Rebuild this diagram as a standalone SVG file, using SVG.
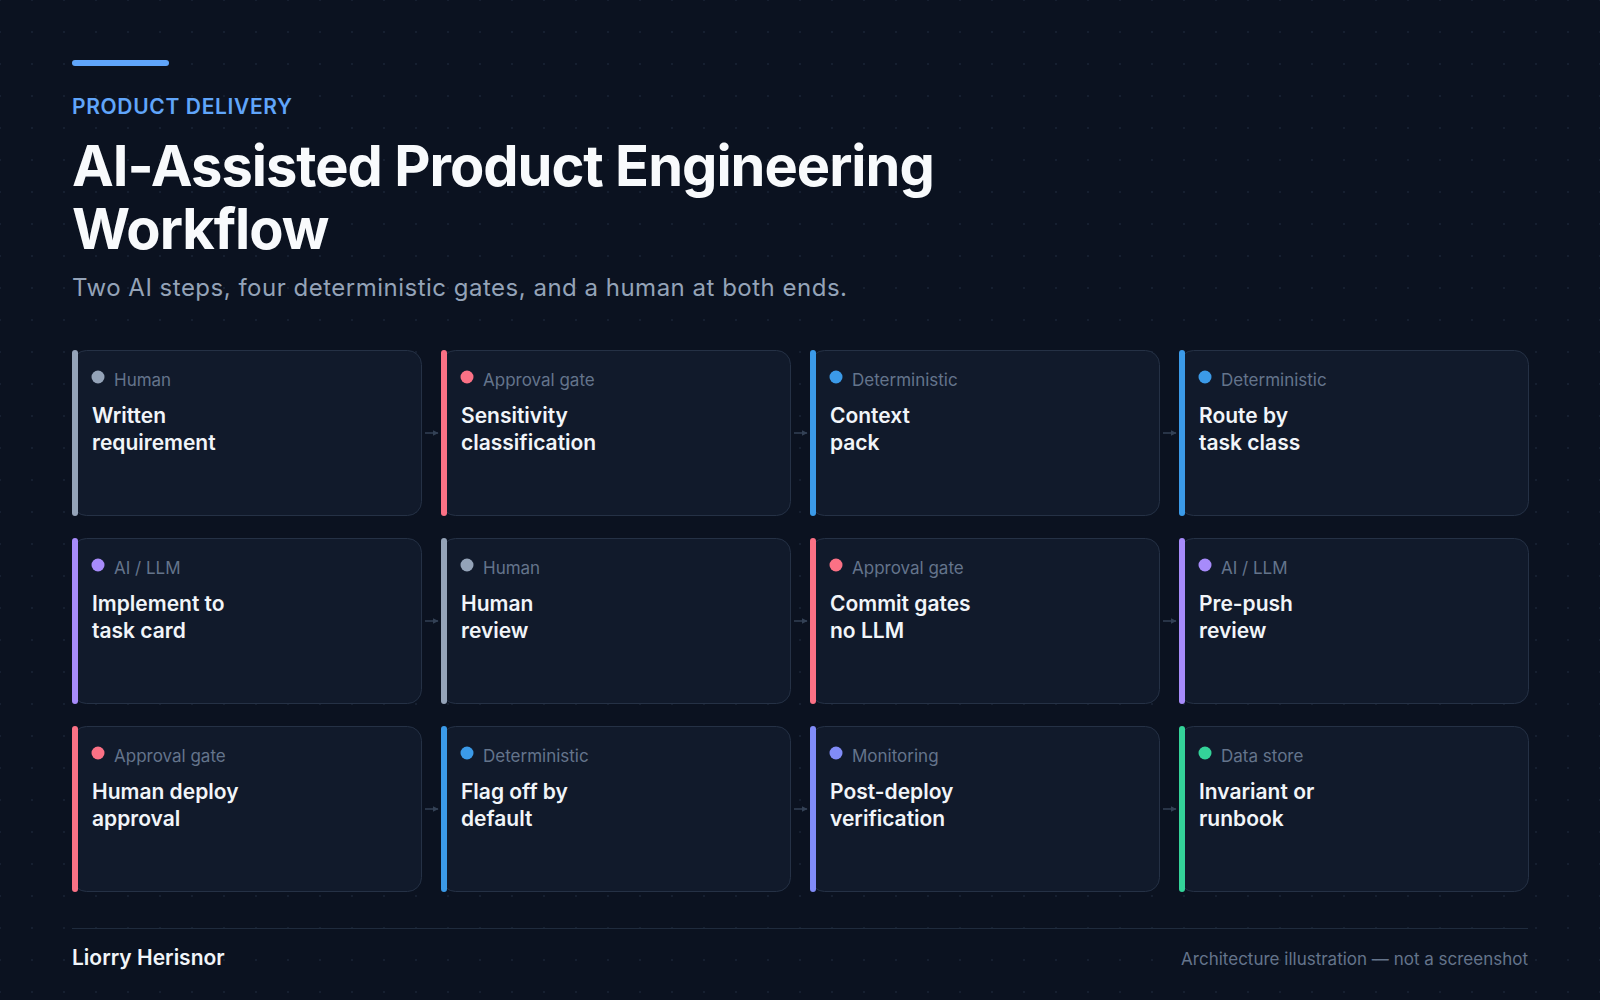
<svg xmlns="http://www.w3.org/2000/svg" width="1600" height="1000" viewBox="0 0 1600 1000">
  <defs>
    <pattern id="grid" patternUnits="userSpaceOnUse" x="-16" y="-16" width="32" height="32">
      <circle cx="16" cy="16" r="0.9" fill="#1a2536"/>
    </pattern>
    <marker id="arr" viewBox="0 0 10 10" refX="9" refY="5" markerWidth="6" markerHeight="6" markerUnits="userSpaceOnUse" orient="auto">
      <path d="M0,0 L10,5 L0,10 z" fill="#334155"/>
    </marker>
    <style>
      .card { fill: #111a2b; stroke: #253145; stroke-width: 1; }
      .lbl { font-family: Inter, "Noto Sans", "Liberation Sans", sans-serif; font-size: 17px; fill: #64748b; }
      .ttl { font-family: Inter, "Noto Sans", "Liberation Sans", sans-serif; font-size: 21px; font-weight: 600; fill: #f1f5f9; }
      .conn { stroke: #334155; stroke-width: 1.5; fill: none; }
      .human { fill: #94a3b8; }
      .gate { fill: #fb7185; }
      .det { fill: #3b9ae8; }
      .ai { fill: #a78bfa; }
      .mon { fill: #818cf8; }
      .data { fill: #34d399; }
    </style>
  </defs>

  <rect width="1600" height="1000" fill="#0b1220"/>
  <rect width="1600" height="1000" fill="url(#grid)"/>

  <g id="header">
    <rect x="72" y="60" width="97" height="6" rx="3" fill="#60a5fa"/>
    <text x="72" y="114" font-family="Inter, 'Noto Sans', 'Liberation Sans', sans-serif" font-size="21" font-weight="600" letter-spacing="0.65" fill="#60a5fa">PRODUCT DELIVERY</text>
    <text font-family="Inter, 'Noto Sans', 'Liberation Sans', sans-serif" font-size="56" font-weight="700" fill="#f8fafc" letter-spacing="-1">
      <tspan x="72" y="186">AI-Assisted Product Engineering</tspan>
      <tspan x="72" y="249">Workflow</tspan>
    </text>
    <text x="72" y="296" font-family="Inter, 'Noto Sans', 'Liberation Sans', sans-serif" font-size="24" letter-spacing="0.5" fill="#94a3b8">Two AI steps, four deterministic gates, and a human at both ends.</text>
  </g>

  <g id="connectors">
    <line class="conn" x1="425" y1="433" x2="438" y2="433" marker-end="url(#arr)"/>
    <line class="conn" x1="794" y1="433" x2="807" y2="433" marker-end="url(#arr)"/>
    <line class="conn" x1="1163" y1="433" x2="1176" y2="433" marker-end="url(#arr)"/>
    <line class="conn" x1="425" y1="621" x2="438" y2="621" marker-end="url(#arr)"/>
    <line class="conn" x1="794" y1="621" x2="807" y2="621" marker-end="url(#arr)"/>
    <line class="conn" x1="1163" y1="621" x2="1176" y2="621" marker-end="url(#arr)"/>
    <line class="conn" x1="425" y1="809" x2="438" y2="809" marker-end="url(#arr)"/>
    <line class="conn" x1="794" y1="809" x2="807" y2="809" marker-end="url(#arr)"/>
    <line class="conn" x1="1163" y1="809" x2="1176" y2="809" marker-end="url(#arr)"/>
  </g>

  <!-- Row 1 -->
  <g id="n1" transform="translate(72,350)">
    <rect class="card" x="0.5" y="0.5" width="349" height="165" rx="14"/>
    <rect class="human" x="0" y="0" width="6" height="166" rx="3"/>
    <circle class="human" cx="26" cy="27" r="6.5"/>
    <text class="lbl" x="42" y="36">Human</text>
    <text class="ttl"><tspan x="20" y="73">Written</tspan><tspan x="20" y="100">requirement</tspan></text>
  </g>
  <g id="n2" transform="translate(441,350)">
    <rect class="card" x="0.5" y="0.5" width="349" height="165" rx="14"/>
    <rect class="gate" x="0" y="0" width="6" height="166" rx="3"/>
    <circle class="gate" cx="26" cy="27" r="6.5"/>
    <text class="lbl" x="42" y="36">Approval gate</text>
    <text class="ttl"><tspan x="20" y="73">Sensitivity</tspan><tspan x="20" y="100">classification</tspan></text>
  </g>
  <g id="n3" transform="translate(810,350)">
    <rect class="card" x="0.5" y="0.5" width="349" height="165" rx="14"/>
    <rect class="det" x="0" y="0" width="6" height="166" rx="3"/>
    <circle class="det" cx="26" cy="27" r="6.5"/>
    <text class="lbl" x="42" y="36">Deterministic</text>
    <text class="ttl"><tspan x="20" y="73">Context</tspan><tspan x="20" y="100">pack</tspan></text>
  </g>
  <g id="n4" transform="translate(1179,350)">
    <rect class="card" x="0.5" y="0.5" width="349" height="165" rx="14"/>
    <rect class="det" x="0" y="0" width="6" height="166" rx="3"/>
    <circle class="det" cx="26" cy="27" r="6.5"/>
    <text class="lbl" x="42" y="36">Deterministic</text>
    <text class="ttl"><tspan x="20" y="73">Route by</tspan><tspan x="20" y="100">task class</tspan></text>
  </g>

  <!-- Row 2 -->
  <g id="n5" transform="translate(72,538)">
    <rect class="card" x="0.5" y="0.5" width="349" height="165" rx="14"/>
    <rect class="ai" x="0" y="0" width="6" height="166" rx="3"/>
    <circle class="ai" cx="26" cy="27" r="6.5"/>
    <text class="lbl" x="42" y="36">AI / LLM</text>
    <text class="ttl"><tspan x="20" y="73">Implement to</tspan><tspan x="20" y="100">task card</tspan></text>
  </g>
  <g id="n6" transform="translate(441,538)">
    <rect class="card" x="0.5" y="0.5" width="349" height="165" rx="14"/>
    <rect class="human" x="0" y="0" width="6" height="166" rx="3"/>
    <circle class="human" cx="26" cy="27" r="6.5"/>
    <text class="lbl" x="42" y="36">Human</text>
    <text class="ttl"><tspan x="20" y="73">Human</tspan><tspan x="20" y="100">review</tspan></text>
  </g>
  <g id="n7" transform="translate(810,538)">
    <rect class="card" x="0.5" y="0.5" width="349" height="165" rx="14"/>
    <rect class="gate" x="0" y="0" width="6" height="166" rx="3"/>
    <circle class="gate" cx="26" cy="27" r="6.5"/>
    <text class="lbl" x="42" y="36">Approval gate</text>
    <text class="ttl"><tspan x="20" y="73">Commit gates</tspan><tspan x="20" y="100">no LLM</tspan></text>
  </g>
  <g id="n8" transform="translate(1179,538)">
    <rect class="card" x="0.5" y="0.5" width="349" height="165" rx="14"/>
    <rect class="ai" x="0" y="0" width="6" height="166" rx="3"/>
    <circle class="ai" cx="26" cy="27" r="6.5"/>
    <text class="lbl" x="42" y="36">AI / LLM</text>
    <text class="ttl"><tspan x="20" y="73">Pre-push</tspan><tspan x="20" y="100">review</tspan></text>
  </g>

  <!-- Row 3 -->
  <g id="n9" transform="translate(72,726)">
    <rect class="card" x="0.5" y="0.5" width="349" height="165" rx="14"/>
    <rect class="gate" x="0" y="0" width="6" height="166" rx="3"/>
    <circle class="gate" cx="26" cy="27" r="6.5"/>
    <text class="lbl" x="42" y="36">Approval gate</text>
    <text class="ttl"><tspan x="20" y="73">Human deploy</tspan><tspan x="20" y="100">approval</tspan></text>
  </g>
  <g id="n10" transform="translate(441,726)">
    <rect class="card" x="0.5" y="0.5" width="349" height="165" rx="14"/>
    <rect class="det" x="0" y="0" width="6" height="166" rx="3"/>
    <circle class="det" cx="26" cy="27" r="6.5"/>
    <text class="lbl" x="42" y="36">Deterministic</text>
    <text class="ttl"><tspan x="20" y="73">Flag off by</tspan><tspan x="20" y="100">default</tspan></text>
  </g>
  <g id="n11" transform="translate(810,726)">
    <rect class="card" x="0.5" y="0.5" width="349" height="165" rx="14"/>
    <rect class="mon" x="0" y="0" width="6" height="166" rx="3"/>
    <circle class="mon" cx="26" cy="27" r="6.5"/>
    <text class="lbl" x="42" y="36">Monitoring</text>
    <text class="ttl"><tspan x="20" y="73">Post-deploy</tspan><tspan x="20" y="100">verification</tspan></text>
  </g>
  <g id="n12" transform="translate(1179,726)">
    <rect class="card" x="0.5" y="0.5" width="349" height="165" rx="14"/>
    <rect class="data" x="0" y="0" width="6" height="166" rx="3"/>
    <circle class="data" cx="26" cy="27" r="6.5"/>
    <text class="lbl" x="42" y="36">Data store</text>
    <text class="ttl"><tspan x="20" y="73">Invariant or</tspan><tspan x="20" y="100">runbook</tspan></text>
  </g>

  <g id="footer">
    <line x1="72" y1="928.5" x2="1528" y2="928.5" stroke="#1f2b3d" stroke-width="1"/>
    <text x="72" y="965" font-family="Inter, 'Noto Sans', 'Liberation Sans', sans-serif" font-size="21" font-weight="600" fill="#f1f5f9">Liorry Herisnor</text>
    <text x="1528" y="965" text-anchor="end" font-family="Inter, 'Noto Sans', 'Liberation Sans', sans-serif" font-size="17" fill="#64748b">Architecture illustration — not a screenshot</text>
  </g>
</svg>
